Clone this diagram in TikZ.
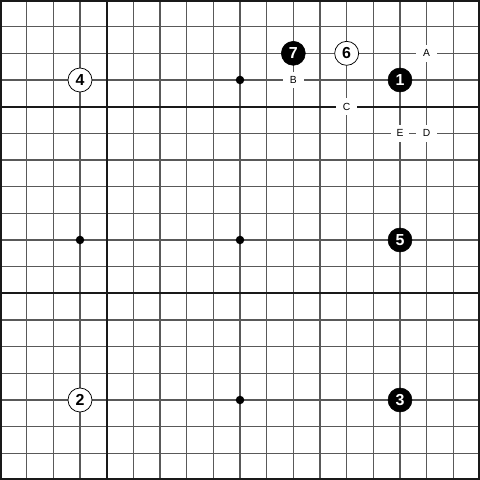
\documentclass[tikz,border=0pt]{standalone}
\usepackage{fontspec}
\setmainfont{Liberation Sans}
\begin{document}
\begin{tikzpicture}[x=1cm,y=1cm,
  gridline/.style={draw=black!65, line width=1.1pt},
  heavyline/.style={draw=black!90, line width=2pt},
  bstone/.style={circle, fill=black, draw=black, line width=0.6pt, minimum size=0.9cm, inner sep=0pt, text=white, font=\fontsize{17}{17}\selectfont\bfseries},
  wstone/.style={circle, fill=white, draw=black, line width=0.8pt, minimum size=0.9cm, inner sep=0pt, text=black, font=\fontsize{17}{17}\selectfont\bfseries},
  letterlabel/.style={fill=white, minimum width=0.8cm, minimum height=0.62cm, inner sep=0pt, font=\fontsize{11}{11}\selectfont},
  starpt/.style={circle, fill=black, minimum size=0.32cm, inner sep=0pt}]
\useasboundingbox (0,0) rectangle (18,18);
\fill[white] (0,0) rectangle (18,18);
\draw[gridline, step=1cm] (0,0) grid (18,18);
\draw[heavyline] (4,0) -- (4,18);
\draw[heavyline] (0,14) -- (18,14);
\draw[heavyline] (0,7) -- (18,7);
\draw[heavyline] (0.04,0.04) rectangle (17.96,17.96);
% star points (row r -> y = 18 - r)
\node[starpt] (s1) at (9,15) {};
\node[starpt] (s2) at (3,9) {};
\node[starpt] (s3) at (9,9) {};
\node[starpt] (s4) at (9,3) {};
% letters
\node[letterlabel] (A) at (16,16) {A};
\node[letterlabel] (B) at (11,15) {B};
\node[letterlabel] (C) at (13,14) {C};
\node[letterlabel] (D) at (16,13) {D};
\node[letterlabel, minimum width=0.7cm] (E) at (15,13) {E};
% stones
\node[bstone] (m1) at (15,15) {1};
\node[wstone] (m2) at (3,3) {2};
\node[bstone] (m3) at (15,3) {3};
\node[wstone] (m4) at (3,15) {4};
\node[bstone] (m5) at (15,9) {5};
\node[wstone] (m6) at (13,16) {6};
\node[bstone] (m7) at (11,16) {7};
\end{tikzpicture}
\end{document}
